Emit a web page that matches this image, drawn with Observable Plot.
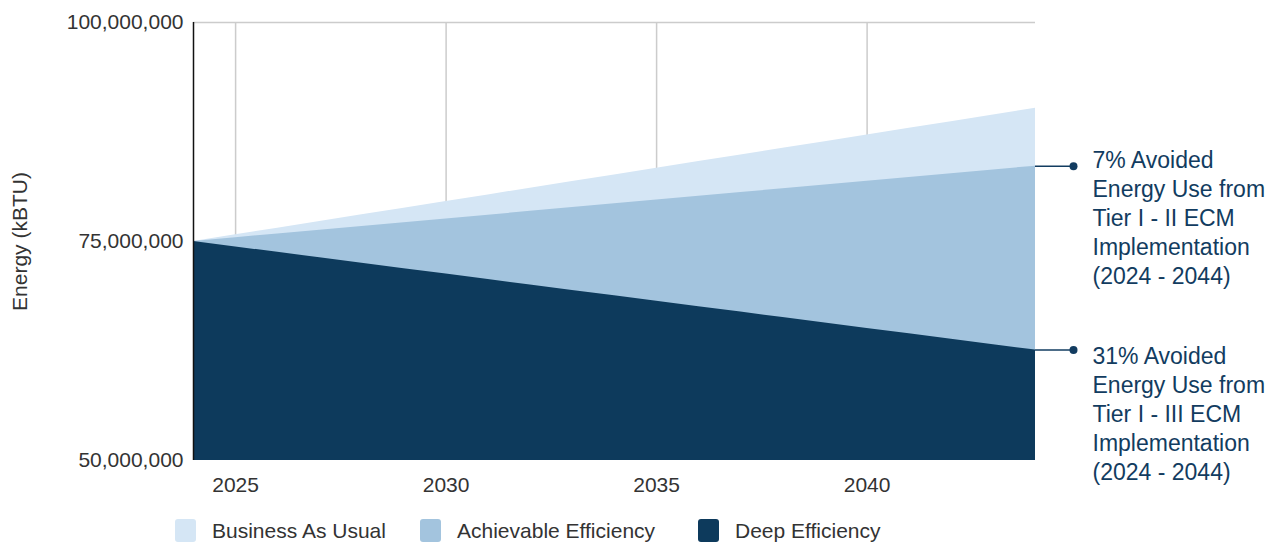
<!DOCTYPE html>
<html>
<head>
<meta charset="utf-8">
<script src="https://cdn.jsdelivr.net/npm/d3@7"></script>
<script src="https://cdn.jsdelivr.net/npm/@observablehq/plot@0.6"></script>
<style>
  html, body { margin: 0; padding: 0; background: #fff; }
  body { width: 1279px; height: 542px; overflow: hidden; position: relative;
         font-family: "Liberation Sans", Arial, sans-serif; }
  #legend { position: absolute; top: 519px; left: 0; width: 1279px; height: 23px; }
  .item { position: absolute; top: 0; display: flex; align-items: center; height: 23px;
          font-size: 21px; color: #333; white-space: nowrap; }
  .sw { width: 21px; height: 23px; margin-right: 16px; border-radius: 3px; }
</style>
</head>
<body>
<div id="chart"></div>
<div id="legend"></div>
<script>
const years = [2024,2025,2026,2027,2028,2029,2030,2031,2032,2033,2034,2035,2036,2037,2038,2039,2040,2041,2042,2043,2044];
const businessAsUsual = [75.0,75.76,76.52,77.28,78.04,78.8,79.56,80.32,81.08,81.84,82.6,83.36,84.12,84.88,85.64,86.4,87.16,87.92,88.68,89.44,90.2];
const achievable = [75.0,75.43,75.86,76.29,76.72,77.15,77.58,78.01,78.44,78.87,79.3,79.73,80.16,80.59,81.02,81.45,81.88,82.31,82.74,83.17,83.6];
const deep = [75.0,74.38,73.76,73.14,72.52,71.9,71.28,70.66,70.04,69.42,68.8,68.18,67.56,66.94,66.32,65.7,65.08,64.46,63.84,63.22,62.6];
const seriesNames = ["Business As Usual", "Achievable Efficiency", "Deep Efficiency"];
const seriesColors = ["#d5e6f5", "#a3c4de", "#0d3a5c"];
const yTicks = [50000000, 75000000, 100000000];
const xTicks = [2025, 2030, 2035, 2040];
const yLabel = "Energy (kBTU)";
const annotation1 = "7% Avoided\nEnergy Use from\nTier I - II ECM\nImplementation\n(2024 - 2044)";
const annotation2 = "31% Avoided\nEnergy Use from\nTier I - III ECM\nImplementation\n(2024 - 2044)";

const M = 1e6;
const data = years.map((y, i) => ({year: y, bau: businessAsUsual[i]*M, ach: achievable[i]*M, deep: deep[i]*M}));
const last = data[data.length - 1];
const ann1 = [{year: last.year, value: last.ach, text: annotation1}];
const ann2 = [{year: last.year, value: last.deep, text: annotation2}];
const base = 50000000;
const annColor = "#123c60";

const chart = Plot.plot({
  width: 1279,
  height: 500,
  marginLeft: 193,
  marginRight: 244,
  marginTop: 22,
  marginBottom: 40,
  style: {fontFamily: '"Liberation Sans", Arial, sans-serif', fontSize: "21px", color: "#333", background: "#fff"},
  x: {domain: [2024, 2044]},
  y: {domain: [50000000, 100000000]},
  marks: [
    Plot.ruleX(xTicks, {stroke: "#cccccc", strokeWidth: 1.5}),
    Plot.ruleY([100000000], {stroke: "#cccccc", strokeWidth: 1.5}),
    Plot.areaY(data, {x: "year", y1: () => base, y2: "bau", fill: seriesColors[0], curve: "linear"}),
    Plot.areaY(data, {x: "year", y1: () => base, y2: "ach", fill: seriesColors[1], curve: "linear"}),
    Plot.areaY(data, {x: "year", y1: () => base, y2: "deep", fill: seriesColors[2], curve: "linear"}),
    Plot.ruleX([2024], {stroke: "#111", strokeWidth: 1.5}),
    Plot.axisX({ticks: xTicks, tickFormat: d => String(d), tickSize: 0, tickPadding: 17, fontSize: 21, fill: "#333", label: null}),
    Plot.axisY({ticks: yTicks, tickFormat: d3.format(","), tickSize: 0, tickPadding: 10, fontSize: 21, fill: "#333",
                label: yLabel, labelAnchor: "center", labelOffset: 181, labelArrow: "none"}),
    Plot.ruleY([...ann1, ...ann2], {y: "value", x1: "year", x2: "year", insetRight: -38, stroke: annColor, strokeWidth: 1.5}),
    Plot.dot([...ann1, ...ann2], {x: "year", y: "value", dx: 38, r: 4, fill: annColor, stroke: null}),
    Plot.text(ann1, {x: "year", y: "value", text: "text", dx: 57, dy: -19, textAnchor: "start", lineAnchor: "top", lineHeight: 1.26, fontSize: 23, fill: annColor}),
    Plot.text(ann2, {x: "year", y: "value", text: "text", dx: 57, dy: -7, textAnchor: "start", lineAnchor: "top", lineHeight: 1.26, fontSize: 23, fill: annColor})
  ]
});
document.getElementById("chart").appendChild(chart);

const legend = document.getElementById("legend");
const lefts = [175, 420, 698];
seriesNames.forEach((name, i) => {
  const it = document.createElement("div");
  it.className = "item";
  it.style.left = lefts[i] + "px";
  const sw = document.createElement("div");
  sw.className = "sw";
  sw.style.background = seriesColors[i];
  const tx = document.createElement("span");
  tx.textContent = name;
  it.appendChild(sw); it.appendChild(tx);
  legend.appendChild(it);
});
</script>
</body>
</html>
